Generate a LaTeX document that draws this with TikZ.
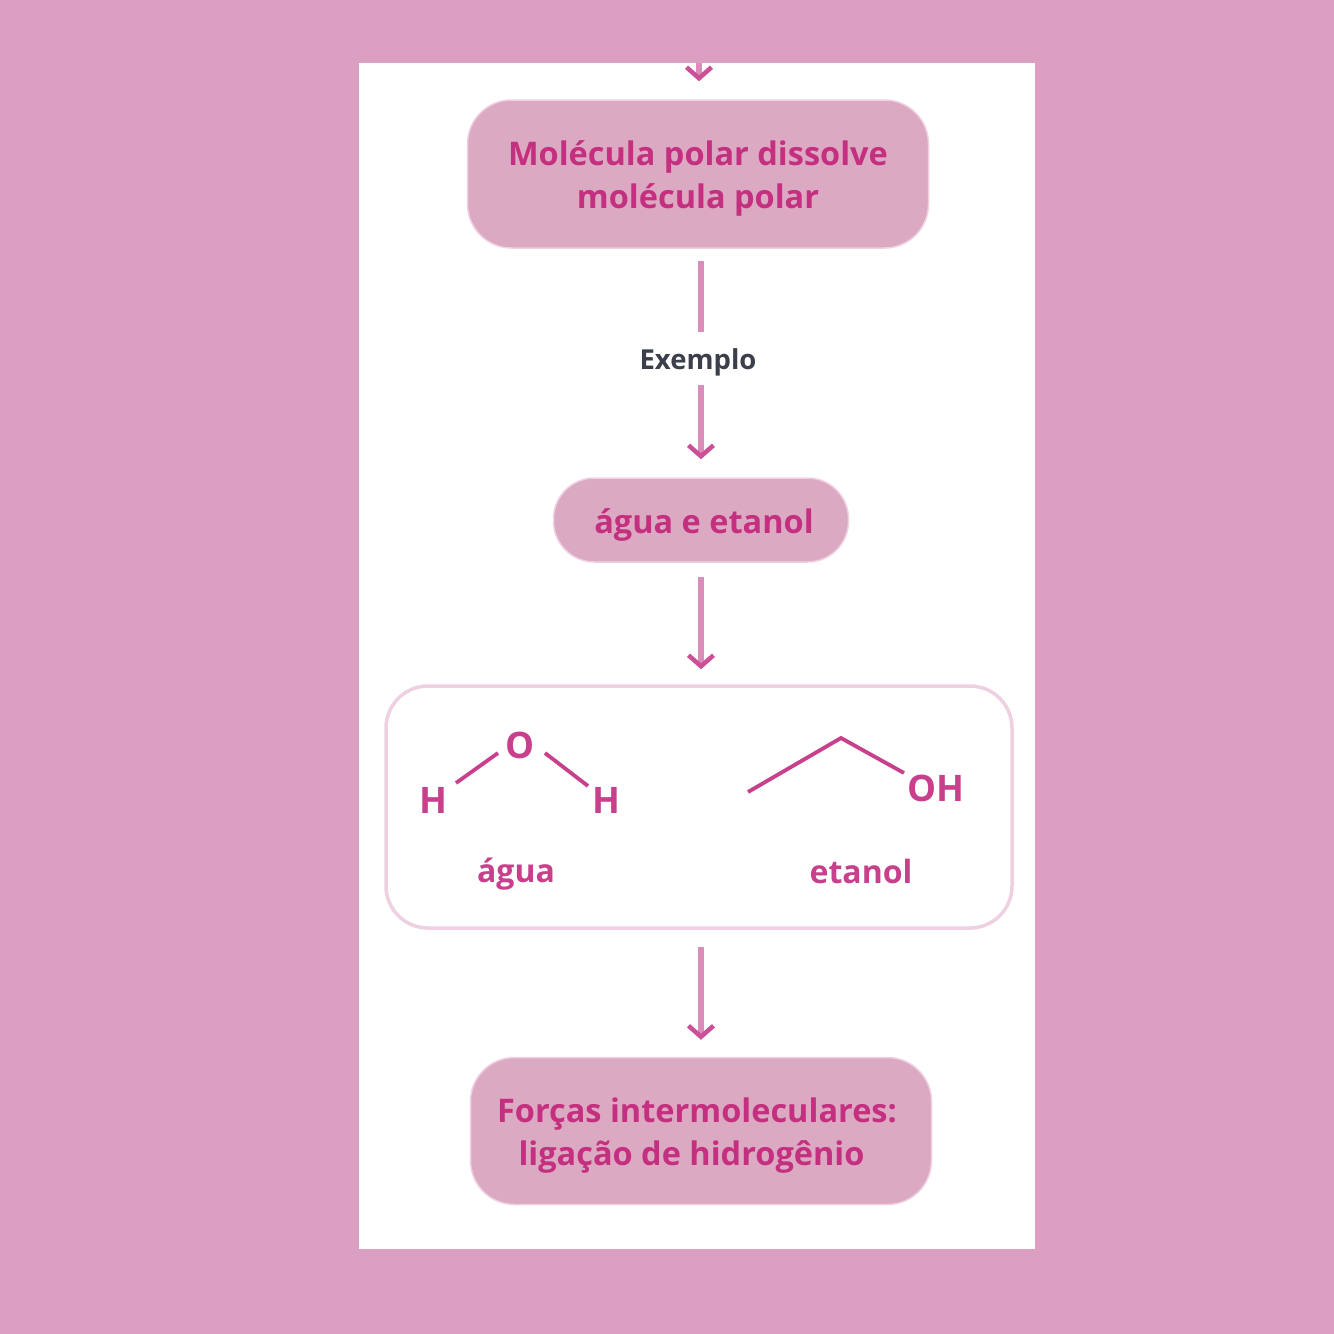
\documentclass[tikz,border=0pt]{standalone}
\usepackage{fontspec}
\setmainfont{Open Sans}
\usetikzlibrary{arrows.meta}
\definecolor{bgpink}{HTML}{DB9FC1}
\definecolor{boxpink}{HTML}{DCA9C3}
\definecolor{edgepink}{HTML}{EFD0E1}
\definecolor{txtpink}{HTML}{C4307F}
\definecolor{linepink}{HTML}{DB8DB9}
\definecolor{tippink}{HTML}{CC4F98}
\definecolor{molpink}{HTML}{C8408C}
\definecolor{exgray}{HTML}{3A3F4A}
\tikzset{
  x=1pt,y=-1pt,
  fillbox/.style={fill=boxpink,draw=edgepink,line width=1.5pt,rounded corners=#1,inner sep=0pt},
  boxtext/.style={inner sep=0pt,text=txtpink,font=\fontsize{32.5}{43}\selectfont\bfseries,align=center},
  flow/.style={draw=linepink,line width=5.5pt,-{Straight Barb[length=11pt,width=25pt,line width=4.5pt,color=tippink]}},
  plainline/.style={draw=linepink,line width=5.5pt},
  atom/.style={inner sep=0pt,text=molpink,font=\fontsize{36.5}{36.5}\selectfont\bfseries},
  caption/.style={inner sep=0pt,text=molpink,font=\fontsize{32}{32}\selectfont\bfseries},
  bond/.style={draw=molpink,line width=3.8pt},
}
\begin{document}
\begin{tikzpicture}
\useasboundingbox (0,0) rectangle (1334,1334);
\fill[bgpink] (0,0) rectangle (1334,1334);
\fill[white] (359,63) rectangle (1035,1249);
% boxes
\node[fillbox=44pt,minimum width=461pt,minimum height=148pt] (polar) at (698,174) {};
\node[boxtext] (polartxt) at (698,178.5) {Molécula polar dissolve\\molécula polar};
\node[fillbox=41pt,minimum width=295pt,minimum height=84pt] (agua) at (701,520) {};
\node[boxtext] (aguatxt) at (704,525) {água e etanol};
\node[draw=edgepink,line width=3.5pt,fill=white,rounded corners=42pt,minimum width=626pt,minimum height=242pt] (mol) at (699,807) {};
\node[fillbox=44pt,minimum width=461pt,minimum height=147pt] (forcas) at (701,1131) {};
\node[boxtext] (forcastxt) at (697,1135.5) {Forças intermoleculares:\\ligação de hidrogênio\hspace*{11pt}};
\node[inner sep=0pt,text=exgray,font=\fontsize{27.5}{27.5}\selectfont\bfseries] (ex) at (698,362) {Exemplo};
% connectors
\coordinate (topstart) at (699,63);
\draw[flow,shorten >=18pt] (topstart) -- (polar.north -| topstart);
\draw[plainline,shorten <=12pt,shorten >=16pt] (agua.north |- polar.south) -- (agua.north |- ex.north);
\draw[flow,shorten <=9pt,shorten >=18pt] (agua.north |- ex.south) -- (agua.north);
\draw[flow,shorten <=14pt,shorten >=15pt] (agua.south) -- (agua.south |- mol.north);
\draw[flow,shorten <=17pt,shorten >=17pt] (agua.south |- mol.south) -- (forcas.north);
% water
\node[atom] (O) at (520,745) {O};
\node[atom] (H1) at (433,800) {H};
\node[atom] (H2) at (606,800) {H};
\coordinate (o1) at (498,753);
\coordinate (h1) at (456,783);
\coordinate (o2) at (545,753);
\coordinate (h2) at (588,786);
\draw[bond] (o1) -- (h1);
\draw[bond] (o2) -- (h2);
\node[caption] (cagua) at (516,874) {água};
% ethanol
\coordinate (c1) at (748,792);
\coordinate (c2) at (841,738);
\node[atom] (OH) at (936,788) {OH};
\coordinate (c3) at (904,773);
\draw[bond] (c1) -- (c2) -- (c3);
\node[caption] (ceta) at (861,871) {etanol};
\end{tikzpicture}
\end{document}
